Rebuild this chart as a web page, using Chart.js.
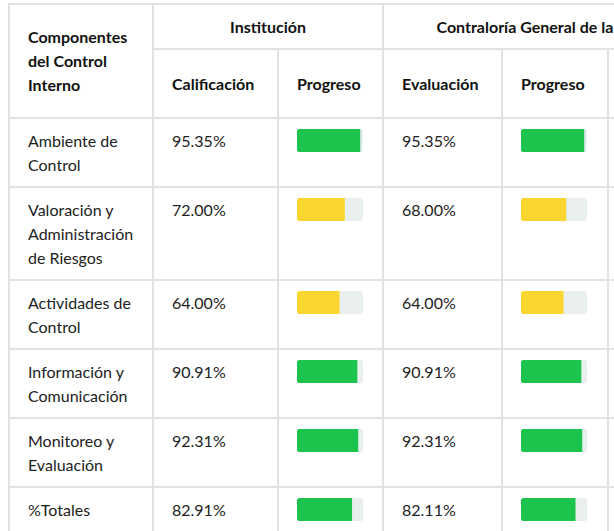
<!DOCTYPE html>
<html><head><meta charset="utf-8">
<script src="https://cdn.jsdelivr.net/npm/chart.js@4"></script>
<style>
html,body{margin:0;padding:0;background:#fff;overflow:hidden;width:614px;height:531px;}
#wrap{position:absolute;left:8px;top:3px;}
table{border-collapse:collapse;table-layout:fixed;width:731px;font-family:Lato,"Noto Sans",sans-serif;font-size:16px;line-height:24px;color:#222;}
td,th{border:2px solid #e2e2e2;padding:10px 18px 9px 18px;vertical-align:top;text-align:left;}
th{font-weight:700;vertical-align:middle;color:#111;padding:8px 18px;}
th.grp{text-align:center;white-space:nowrap;}
tr.h1{height:45px;} tr.h2{height:69px;}
.pb{display:block;margin-top:0px;width:66px;height:23px;}
</style></head><body>
<div id="wrap">
<table id="t">
<colgroup><col style="width:144px"><col style="width:125px"><col style="width:105px"><col style="width:119px"><col style="width:106px"><col style="width:132px"></colgroup>
<thead>
<tr class="h1"><th rowspan="2" id="hc"></th><th colspan="2" class="grp" id="g1"></th><th colspan="3" class="grp" id="g2"></th></tr>
<tr class="h2"><th id="s1"></th><th id="s2"></th><th id="s3"></th><th id="s4"></th><th></th></tr>
</thead>
<tbody id="tb"></tbody>
</table>
</div>
<script>
// ---- data ----
const componentHeader = "Componentes del Control Interno";
const groupLabels = ["Institución", "Contraloría General de la República"];
const subLabels = ["Calificación", "Progreso", "Evaluación", "Progreso"];
const categories = ["Ambiente de Control", "Valoración y Administración de Riesgos", "Actividades de Control", "Información y Comunicación", "Monitoreo y Evaluación", "%Totales"];
const institucion = [95.35, 72.00, 64.00, 90.91, 92.31, 82.91];
const contraloria = [95.35, 68.00, 64.00, 90.91, 92.31, 82.11];

// ---- build table ----
document.getElementById('hc').textContent = componentHeader;
document.getElementById('g1').textContent = groupLabels[0];
document.getElementById('g2').textContent = groupLabels[1];
['s1','s2','s3','s4'].forEach((id,i)=>document.getElementById(id).textContent = subLabels[i]);

const GREEN = '#1cc44e', YELLOW = '#fbd630', TRACK = '#e9eeee';
const colorFor = v => v >= 80 ? GREEN : YELLOW;

function makeBar(canvas, v) {
  new Chart(canvas, {
    type: 'bar',
    data: { labels: [''], datasets: [
      { data: [v], backgroundColor: colorFor(v), borderRadius: {topLeft:4, bottomLeft:4, topRight:0, bottomRight:0}, borderSkipped: false, grouped: false, order: 0, barPercentage: 1, categoryPercentage: 1 },
      { data: [100], backgroundColor: TRACK, borderRadius: 4, borderSkipped: false, grouped: false, order: 1, barPercentage: 1, categoryPercentage: 1 }
    ]},
    options: {
      indexAxis: 'y', responsive: false, animation: false, events: [],
      plugins: { legend: { display: false }, tooltip: { enabled: false } },
      layout: { padding: 0 },
      scales: { x: { display: false, min: 0, max: 100 }, y: { display: false } }
    }
  });
}

const tb = document.getElementById('tb');
categories.forEach((c, i) => {
  const tr = document.createElement('tr');
  tb.appendChild(tr);
  const cells = [c, institucion[i].toFixed(2) + '%', null, contraloria[i].toFixed(2) + '%', null, ''];
  const vals = [null, null, institucion[i], null, contraloria[i], null];
  cells.forEach((txt, j) => {
    const td = document.createElement('td');
    tr.appendChild(td);
    if (txt === null) {
      const cv = document.createElement('canvas');
      cv.className = 'pb'; cv.width = 66; cv.height = 23;
      td.appendChild(cv);
      makeBar(cv, vals[j]);
    } else {
      td.textContent = txt;
    }
  });
});
</script>
</body></html>
